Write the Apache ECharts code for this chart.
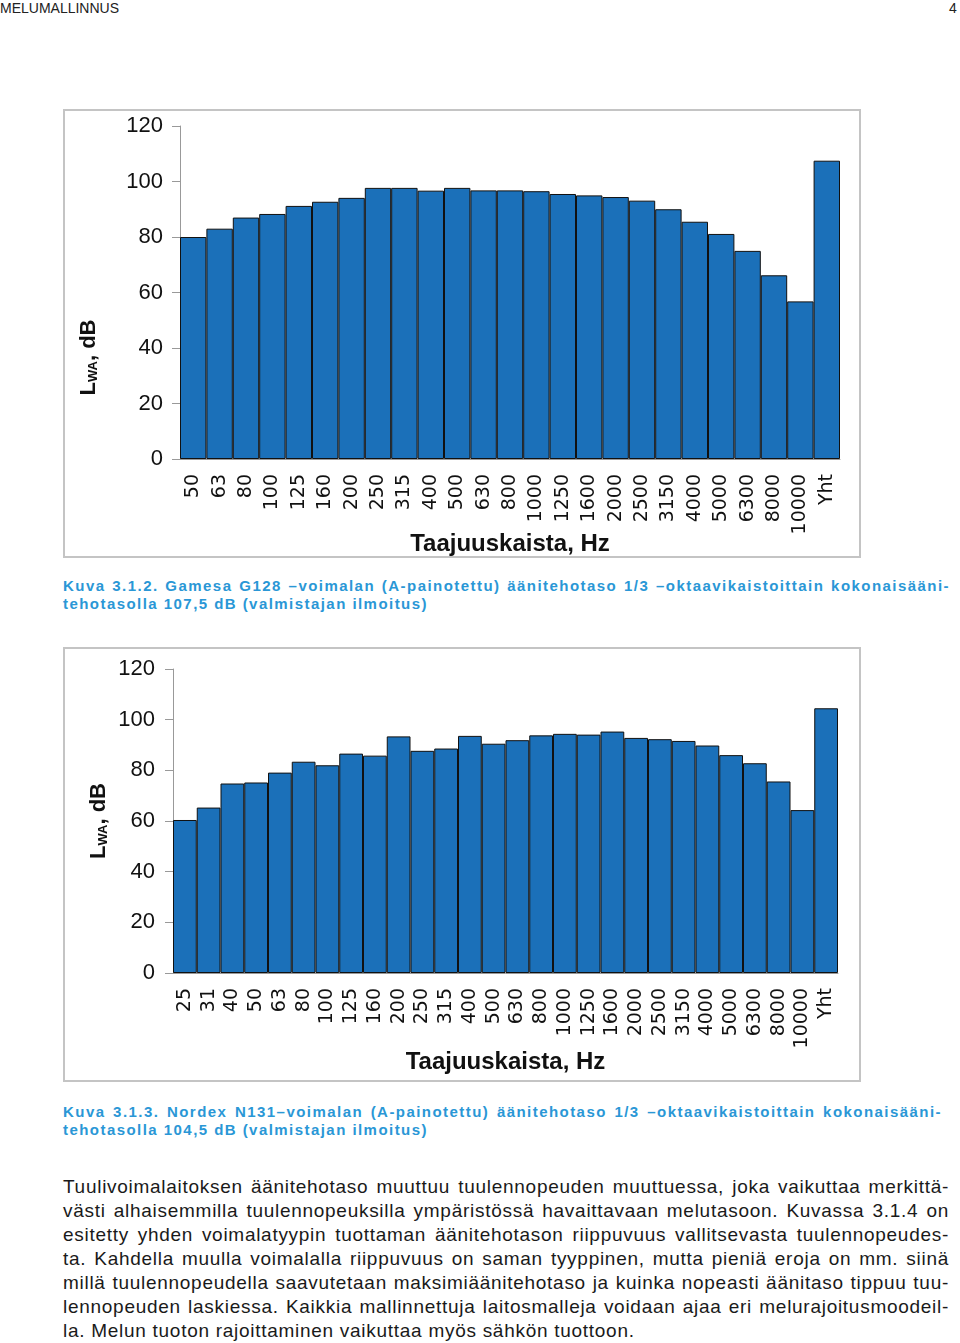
<!DOCTYPE html>
<html><head><meta charset="utf-8">
<script src="https://cdn.jsdelivr.net/npm/echarts@6/dist/echarts.min.js"></script>
<style>
html,body{margin:0;padding:0;background:#fff;}
body{width:960px;height:1343px;position:relative;overflow:hidden;font-family:"Liberation Sans",Arial,sans-serif;}
.abs{position:absolute;white-space:nowrap;}
.frame{position:absolute;border:2px solid #c4c4c4;box-sizing:border-box;}
.cap{position:absolute;left:63px;width:887px;font-family:"Liberation Sans",Arial,sans-serif;font-weight:bold;font-size:15px;letter-spacing:1.45px;color:#2a97d6;line-height:18px;white-space:nowrap;}
.j{text-align:justify;text-align-last:justify;}
.body{position:absolute;left:63px;width:886px;font-family:"Liberation Sans",Arial,sans-serif;font-size:19px;letter-spacing:0.72px;color:#1a1a1a;line-height:24px;white-space:nowrap;}
</style></head>
<body>
<div class="abs" style="left:0;top:0;font-size:14px;color:#222;">MELUMALLINNUS</div>
<div class="abs" style="left:949px;top:0;font-size:14px;color:#222;">4</div>

<div id="c1" class="frame" style="left:63px;top:109px;width:798px;height:449px;"></div>
<div class="cap j" style="top:577px;">Kuva 3.1.2. Gamesa G128 –voimalan (A-painotettu) äänitehotaso 1/3 –oktaavikaistoittain kokonaisääni-</div>
<div class="cap" style="top:595px;">tehotasolla 107,5 dB (valmistajan ilmoitus)</div>

<div id="c2" class="frame" style="left:63px;top:647px;width:798px;height:435px;"></div>
<div class="cap j" style="top:1103px;width:879px;">Kuva 3.1.3. Nordex N131–voimalan (A-painotettu) äänitehotaso 1/3 –oktaavikaistoittain kokonaisääni-</div>
<div class="cap" style="top:1121px;">tehotasolla 104,5 dB (valmistajan ilmoitus)</div>

<div class="body j" style="top:1175px;">Tuulivoimalaitoksen äänitehotaso muuttuu tuulennopeuden muuttuessa, joka vaikuttaa merkittä-</div>
<div class="body j" style="top:1199px;">västi alhaisemmilla tuulennopeuksilla ympäristössä havaittavaan melutasoon. Kuvassa 3.1.4 on</div>
<div class="body j" style="top:1223px;">esitetty yhden voimalatyypin tuottaman äänitehotason riippuvuus vallitsevasta tuulennopeudes-</div>
<div class="body j" style="top:1247px;">ta. Kahdella muulla voimalalla riippuvuus on saman tyyppinen, mutta pieniä eroja on mm. siinä</div>
<div class="body j" style="top:1271px;">millä tuulennopeudella saavutetaan maksimiäänitehotaso ja kuinka nopeasti äänitaso tippuu tuu-</div>
<div class="body j" style="top:1295px;">lennopeuden laskiessa. Kaikkia mallinnettuja laitosmalleja voidaan ajaa eri melurajoitusmoodeil-</div>
<div class="body" style="top:1319px;">la. Melun tuoton rajoittaminen vaikuttaa myös sähkön tuottoon.</div>

<script>
// ---- data ----
const bands1 = ["50","63","80","100","125","160","200","250","315","400","500","630","800","1000","1250","1600","2000","2500","3150","4000","5000","6300","8000","10000","Yht"];
const values1 = [80.0,83.0,87.0,88.3,91.2,92.7,94.1,97.7,97.7,96.7,97.7,96.8,96.8,96.5,95.5,95.0,94.4,93.1,90.0,85.5,81.1,75.0,66.2,56.8,107.5];

const bands2 = ["25","31","40","50","63","80","100","125","160","200","250","315","400","500","630","800","1000","1250","1600","2000","2500","3150","4000","5000","6300","8000","10000","Yht"];
const values2 = [60.4,65.3,74.8,75.2,79.1,83.4,82.0,86.6,85.8,93.4,87.7,88.6,93.6,90.5,91.9,93.8,94.4,94.1,95.3,92.8,92.3,91.6,89.8,86.0,82.8,75.6,64.3,104.5];

const yTicks = [0,20,40,60,80,100,120];
const xTitle = "Taajuuskaista, Hz";

function makeOption(cats, vals, g, yNameGap, yNamePad, xNameGap, yLabMargin){
  g.outerBoundsMode = 'none';
  g.containLabel = false;
  return {
    animation:false,
    grid:g,
    xAxis:{
      type:'category', data:cats,
      axisLine:{show:true,lineStyle:{color:'#999',width:1}},
      axisTick:{show:false},
      axisLabel:{rotate:90,interval:0,margin:15,fontFamily:'DejaVu Sans',fontSize:19,color:'#111'},
      name:xTitle,nameLocation:'middle',nameGap:xNameGap,nameMoveOverlap:false,
      nameTextStyle:{fontFamily:'Liberation Sans, Arial',fontWeight:'bold',fontSize:24,color:'#111',verticalAlign:'middle'}
    },
    yAxis:{
      type:'value',min:yTicks[0],max:yTicks[yTicks.length-1],interval:20,
      axisLine:{show:true,lineStyle:{color:'#999',width:1}},
      axisTick:{show:true,length:8,lineStyle:{color:'#999'}},
      splitLine:{show:false},
      axisLabel:{margin:yLabMargin,fontFamily:'Liberation Sans, Arial',fontSize:22,color:'#111'},
      name:'{a|L}{s|WA}{a|, dB}',nameLocation:'middle',nameGap:yNameGap,nameRotate:90,nameMoveOverlap:false,
      nameTextStyle:{padding:yNamePad,rich:{
        a:{fontFamily:'Liberation Sans, Arial',fontWeight:'bold',fontSize:22,color:'#111'},
        s:{fontFamily:'Liberation Sans, Arial',fontWeight:'bold',fontSize:13,color:'#111',verticalAlign:'bottom',padding:[7,0,0,0]}
      }}
    },
    series:[{type:'bar',data:vals,barCategoryGap:'0%',
      itemStyle:{color:'#1b70b9',borderColor:'#111',borderWidth:1}}]
  };
}

const ch1 = echarts.init(document.getElementById('c1'),null,{renderer:'canvas'});
ch1.setOption(makeOption(bands1,values1,{left:115,right:19,top:15,bottom:97},80,[0,130,0,0],85,17));
const ch2 = echarts.init(document.getElementById('c2'),null,{renderer:'canvas'});
ch2.setOption(makeOption(bands2,values2,{left:108,right:21,top:20,bottom:107},63,[0,0,0,0],89,18));
</script>
</body></html>
